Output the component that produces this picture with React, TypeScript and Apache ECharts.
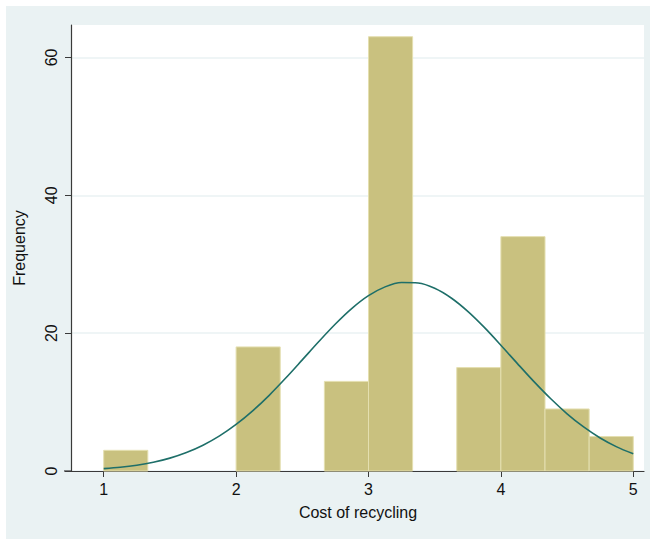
import React, { useEffect, useRef } from "react";
import * as echarts from "echarts";

// Histogram bins (Cost of recycling), bin width 1/3
const binLow = [1, 2, 2.6667, 3, 3.6667, 4, 4.3333, 4.6667];
const binHigh = [1.3333, 2.3333, 3, 3.3333, 4, 4.3333, 4.6667, 5];
const frequencies = [3, 18, 13, 63, 15, 34, 9, 5];

// Normal density overlay (in frequency units)
const curveX = [
  1, 1.125, 1.25, 1.375, 1.5, 1.625, 1.75, 1.875, 2, 2.125, 2.25, 2.375, 2.5, 2.625, 2.75, 2.875,
  3, 3.125, 3.25, 3.375, 3.5, 3.625, 3.75, 3.875, 4, 4.125, 4.25, 4.375, 4.5, 4.625, 4.75, 4.875, 5,
];
const curveY = [
  0.34, 0.54, 0.84, 1.27, 1.87, 2.68, 3.74, 5.09, 6.75, 8.72, 10.98, 13.48, 16.12, 18.78, 21.32, 23.59,
  25.43, 26.71, 27.34, 27.27, 26.51, 25.1, 23.16, 20.83, 18.25, 15.58, 12.96, 10.51, 8.3, 6.39, 4.79, 3.5, 2.49,
];

const xTicks = [1, 2, 3, 4, 5];
const yTicks = [0, 20, 40, 60];

const BG = "#EAF2F3";
const FONT = "Liberation Sans, Arial, Helvetica, sans-serif";

export default function App() {
  const ref = useRef<HTMLDivElement>(null);
  useEffect(() => {
    if (!ref.current) return;
    const chart = echarts.init(ref.current, undefined, { renderer: "svg" });
    const bars = binLow.map((lo, i) => [lo, binHigh[i], frequencies[i]]);
    const curve = curveX.map((x, i) => [x, curveY[i]]);
    chart.setOption({
      animation: false,
      backgroundColor: BG,
      grid: {
        left: 65,
        right: 6,
        top: 19,
        bottom: 68,
        show: true,
        backgroundColor: "#ffffff",
        borderWidth: 0,
      },
      xAxis: {
        type: "value",
        min: 0.753,
        max: 5.081,
        axisLine: { show: true, onZero: false, lineStyle: { color: "#3a3a3a", width: 1.2 } },
        axisTick: { show: true, length: 6, customValues: xTicks, lineStyle: { color: "#3a3a3a" } },
        axisLabel: {
          customValues: xTicks,
          color: "#111",
          fontSize: 16,
          fontFamily: FONT,
          margin: 10,
        },
        splitLine: { show: false },
      },
      yAxis: {
        type: "value",
        min: 0,
        max: 64.7,
        interval: 20,
        axisLine: { show: true, lineStyle: { color: "#3a3a3a", width: 1.2 } },
        axisTick: { show: true, length: 6, customValues: yTicks, lineStyle: { color: "#3a3a3a" } },
        axisLabel: {
          customValues: yTicks,
          rotate: 90,
          color: "#111",
          fontSize: 16,
          fontFamily: FONT,
          margin: 12,
        },
        splitLine: { show: true, lineStyle: { color: BG, width: 1.5 } },
      },
      series: [
        {
          type: "custom",
          data: bars,
          encode: { x: [0, 1], y: 2 },
          z: 2,
          renderItem: (params: any, api: any) => {
            const p0 = api.coord([api.value(0), api.value(2)]);
            const p1 = api.coord([api.value(1), 0]);
            return {
              type: "rect",
              shape: { x: p0[0], y: p0[1], width: p1[0] - p0[0], height: p1[1] - p0[1] },
              style: { fill: "#C9C17F", stroke: "#E4DFB0", lineWidth: 1 },
            };
          },
        },
        {
          type: "line",
          data: curve,
          smooth: 0.3,
          showSymbol: false,
          z: 3,
          lineStyle: { color: "#1E6F69", width: 1.6 },
        },
      ],
      graphic: [
        {
          type: "line",
          shape: { x1: 58, y1: 465, x2: 66, y2: 465 },
          style: { stroke: "#3a3a3a", lineWidth: 1.2 },
          z: 10,
        },
        {
          type: "text",
          x: 352,
          y: 506,
          style: {
            text: "Cost of recycling",
            fontSize: 16,
            fontFamily: FONT,
            fill: "#111",
            textAlign: "center",
            textVerticalAlign: "middle",
          },
        },
        {
          type: "text",
          x: 13,
          y: 242,
          rotation: Math.PI / 2,
          style: {
            text: "Frequency",
            fontSize: 16,
            fontFamily: FONT,
            fill: "#111",
            textAlign: "center",
            textVerticalAlign: "middle",
          },
        },
      ],
    });
    return () => chart.dispose();
  }, []);
  return (
    <div style={{ position: "fixed", left: 0, top: 0, width: 651, height: 540, background: "#ffffff" }}>
      <div ref={ref} style={{ position: "absolute", left: 6, top: 6, width: 644, height: 533 }} />
    </div>
  );
}
